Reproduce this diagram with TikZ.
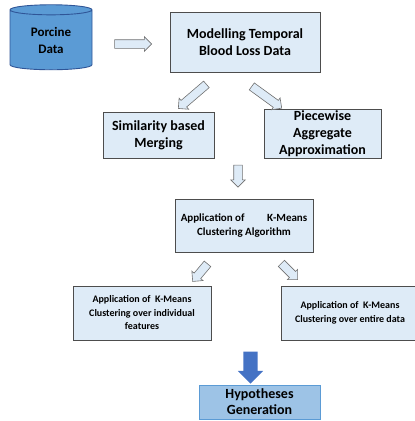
\documentclass[tikz,border=0pt]{standalone}
\usepackage{fontspec}
\setmainfont{Carlito}
\usetikzlibrary{shapes.geometric,shapes.arrows}
\definecolor{boxfill}{HTML}{DEEBF7}
\definecolor{boxline}{HTML}{4D4D4D}
\definecolor{dbfill}{HTML}{5B9BD5}
\definecolor{dbline}{HTML}{2F5597}
\definecolor{hypfill}{HTML}{9DC3E6}
\definecolor{hypline}{HTML}{5B9BD5}
\definecolor{bigarrow}{HTML}{4472C4}
\begin{document}
\begin{tikzpicture}[x=1pt, y=-1pt,
    stepbox/.style={rectangle, draw=boxline, fill=boxfill, line width=0.9pt, align=center, inner sep=0pt, font=\fontsize{14}{17}\selectfont\bfseries},
    smallbox/.style={stepbox, font=\fontsize{10}{13.5}\selectfont\bfseries},
    flow/.style={single arrow, draw=boxline!80, fill=boxfill, line width=0.6pt, inner xsep=0pt, inner ysep=4pt, minimum width=14pt, single arrow head extend=3pt}
]
    \useasboundingbox (0,0) rectangle (415,421);
    % source data
    \node[cylinder, shape border rotate=90, aspect=0.25, draw=dbline, fill=dbfill, line width=0.9pt,
          minimum width=82pt, minimum height=65pt, align=center, inner sep=0pt,
          font=\fontsize{13}{17}\selectfont\bfseries] (porc) at (51,40) {Porcine\\Data};
    \node[stepbox, minimum width=150pt, minimum height=60pt] (model) at (245,42) {Modelling Temporal\\Blood Loss Data};
    \node[stepbox, minimum width=111pt, minimum height=46pt] (simi) at (158.5,135) {Similarity based\\Merging};
    \node[stepbox, minimum width=117pt, minimum height=49pt] (piece) at (322.5,133.5) {Piecewise\\Aggregate\\Approximation};
    \node[smallbox, minimum width=138pt, minimum height=53pt, font=\fontsize{11}{14}\selectfont\bfseries] (kmean) at (244,225.5) {Application of \hspace{1.6em} K-Means\\Clustering Algorithm};
    \node[smallbox, minimum width=138pt, minimum height=54pt] (indiv) at (142,313) {Application of \ K-Means\\Clustering over individual\\features};
    \node[smallbox, minimum width=138pt, minimum height=54pt] (entire) at (350,313) {Application of \ K-Means\\Clustering over entire data};
    \node[stepbox, draw=hypline, fill=hypfill, minimum width=121pt, minimum height=34pt,
          font=\fontsize{14}{16}\selectfont\bfseries] (hypo) at (259.5,402) {Hypotheses\\Generation};
    % block arrows
    \node[flow, minimum height=37pt] (a1) at (131,44) {};
    \node[flow, minimum height=37pt, rotate=220.6] (a2) at (194,95) {};
    \node[flow, minimum height=37pt, rotate=-36] (a3) at (265,96) {};
    \node[flow, minimum height=22pt, rotate=-90] (a4) at (238,174) {};
    \node[flow, minimum height=23pt, rotate=230] (a5) at (201.5,271) {};
    \node[flow, minimum height=23pt, rotate=-45] (a6) at (288,270) {};
    \node[single arrow, fill=bigarrow, draw=none, inner xsep=0pt, inner ysep=7pt, minimum width=25pt,
          single arrow head extend=5.5pt, minimum height=32pt, rotate=-90] (a7) at (250.5,364) {};
\end{tikzpicture}
\end{document}
